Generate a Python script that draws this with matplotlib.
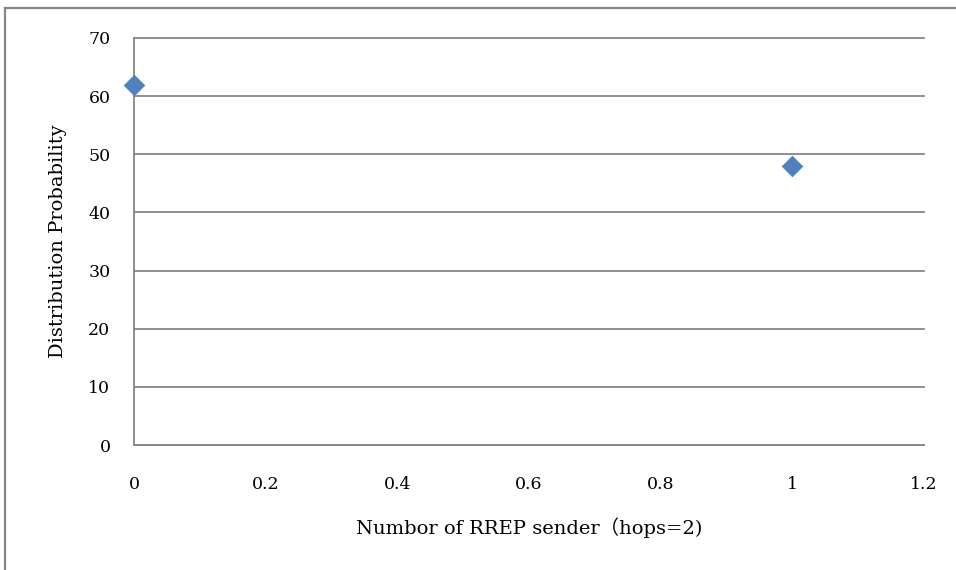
import matplotlib.pyplot as plt
from matplotlib.lines import Line2D

# data
senders = [0, 1]
probability = [62, 48]
y_ticks = [0, 10, 20, 30, 40, 50, 60, 70]
x_ticks = [0, 0.2, 0.4, 0.6, 0.8, 1, 1.2]
x_tick_labels = ['0', '0.2', '0.4', '0.6', '0.8', '1', '1.2']

plt.rcParams['font.family'] = ['DejaVu Serif', 'Noto Sans CJK JP']

fig = plt.figure(figsize=(9.56, 5.70), dpi=100)
ax = fig.add_axes([134 / 956, 1 - 445 / 570, 790 / 956, 407 / 570])

ax.scatter(senders, probability, marker='D', s=110, color='#4F81BD',
           edgecolors='#4A7EBB', linewidths=0.5, zorder=3, clip_on=False)

ax.set_xlim(0, 1.2)
ax.set_ylim(0, 70)
ax.set_xticks(x_ticks)
ax.set_xticklabels(x_tick_labels)
ax.set_yticks(y_ticks)
ax.yaxis.grid(True, color='#868686', linewidth=1.3)
for gl in ax.get_ygridlines():
    gl.set_clip_on(False)
ax.set_axisbelow(True)
ax.tick_params(axis='both', length=0, labelsize=12.5, colors='black')
ax.tick_params(axis='y', pad=17)
ax.tick_params(axis='x', pad=22)

for side in ['top', 'right']:
    ax.spines[side].set_visible(False)
for side in ['left', 'bottom']:
    ax.spines[side].set_color('#868686')
    ax.spines[side].set_linewidth(1.3)

ax.set_xlabel('Numbor of RREP sender（hops=2)', fontsize=14, labelpad=18)
ax.set_ylabel('Distribution Probability', fontsize=14, labelpad=15)

# chart border (partly cropped in the reference)
fig.add_artist(Line2D([5 / 956, 5 / 956], [0, 1 - 7.5 / 570], color='#868686', linewidth=1.6))
fig.add_artist(Line2D([5 / 956, 1], [1 - 7.5 / 570, 1 - 7.5 / 570], color='#868686', linewidth=1.6))

fig.savefig('out.png', dpi=100)
